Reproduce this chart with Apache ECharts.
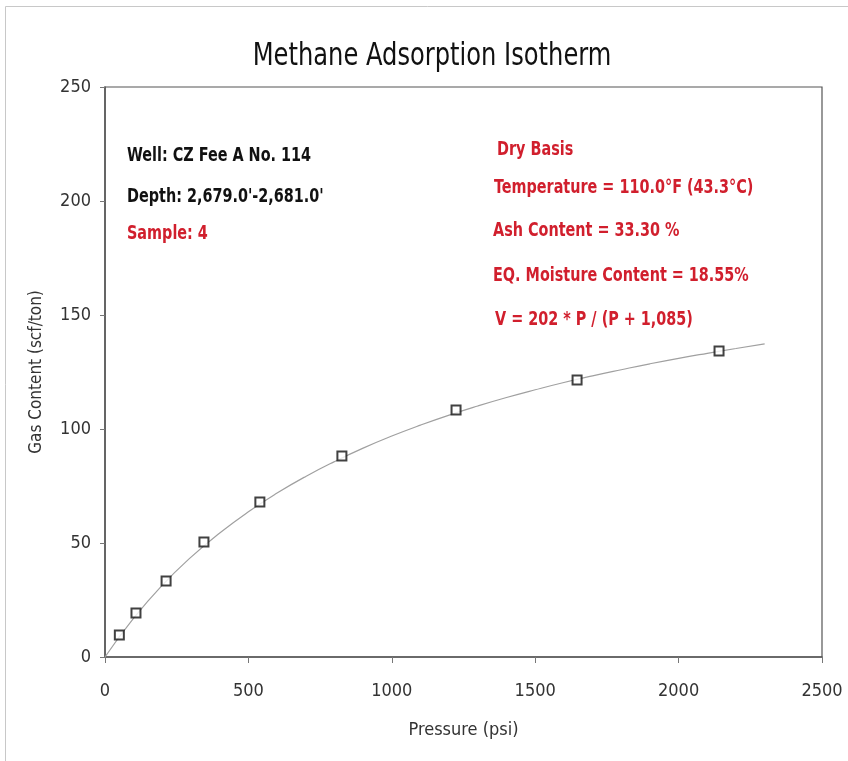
<!DOCTYPE html>
<html><head><meta charset="utf-8">
<script src="https://cdn.jsdelivr.net/npm/echarts@6/dist/echarts.min.js"></script>
<style>html,body{margin:0;padding:0;background:#fff}#c{width:848px;height:761px}</style>
</head><body><div id="c"></div>
<script>
const measuredPressure = [50, 108, 213, 345, 540, 826, 1224, 1646, 2141];
const measuredGas = [9.6, 19.3, 33.3, 50.4, 68, 88.2, 108.3, 121.5, 134.2];
const curvePressure = [0,100,200,300,400,500,600,700,800,900,1000,1100,1200,1300,1400,1500,1600,1700,1800,1900,2000,2100,2200,2300];
const curveGas = [0,17,31.5,43.8,54.4,63.7,71.9,79.2,85.7,91.6,96.9,101.7,106.1,110.1,113.8,117.2,120.4,123.3,126,128.6,131,133.2,135.3,137.3];
const leftNotes = ['Well: CZ Fee A No. 114', "Depth: 2,679.0'-2,681.0'", 'Sample: 4'];
const rightNotes = ['Dry Basis', 'Temperature = 110.0°F (43.3°C)', 'Ash Content = 33.30 %', 'EQ. Moisture Content = 18.55%', 'V = 202 * P / (P + 1,085)'];
const titleText = 'Methane Adsorption Isotherm';

const FONT = '"Liberation Sans Narrow","DejaVu Sans Condensed","Roboto Condensed",sans-serif';
const RED = '#d11f2d';
const chart = echarts.init(document.getElementById('c'));
function note(text, x, y, color) {
  return {type:'text', x:x, y:y, scaleX:0.8, originX:0,
    style:{text:text, fontFamily:FONT, fontWeight:'bold', fontSize:20, fill:color, textVerticalAlign:'middle'}};
}
const graphics = [
  {type:'rect', shape:{x:5.5,y:6.5,width:900,height:900}, style:{fill:'none', stroke:'#c8c8c8', lineWidth:1}, silent:true, z:-1},
  {type:'text', x:432, y:41, scaleX:0.84, originX:0,
    style:{text:titleText, fontFamily:FONT, fontSize:32, fill:'#111', textAlign:'center', textVerticalAlign:'top'}},
  note(leftNotes[0], 127, 156, '#111'),
  note(leftNotes[1], 127, 197, '#111'),
  note(leftNotes[2], 127, 234, RED),
  note(rightNotes[0], 497, 150, RED),
  note(rightNotes[1], 494, 188, RED),
  note(rightNotes[2], 493, 231, RED),
  note(rightNotes[3], 493, 276, RED),
  note(rightNotes[4], 495, 320, RED)
];
chart.setOption({
  animation:false,
  backgroundColor:'#fff',
  grid:{left:105, right:26, top:87, bottom:104, show:true, borderColor:'#555', borderWidth:1.2},
  xAxis:{type:'value', min:0, max:2500, interval:500, name:'Pressure (psi)', nameLocation:'middle', nameGap:64,
    nameTextStyle:{fontFamily:FONT, fontSize:18, color:'#333'},
    axisLine:{lineStyle:{color:'#555', width:1.5}}, axisTick:{show:true, length:6, lineStyle:{color:'#777'}},
    axisLabel:{fontFamily:FONT, fontSize:18, color:'#333', margin:25, formatter:(v)=>String(v)}, splitLine:{show:false}},
  yAxis:{type:'value', min:0, max:250, interval:50, name:'Gas Content (scf/ton)', nameLocation:'middle', nameGap:60,
    nameTextStyle:{fontFamily:FONT, fontSize:17, color:'#333'},
    axisLine:{show:true, lineStyle:{color:'#555', width:1.5}}, axisTick:{show:true, length:5, lineStyle:{color:'#777'}},
    axisLabel:{fontFamily:FONT, fontSize:18, color:'#333', margin:14}, splitLine:{show:false}},
  graphic:graphics,
  series:[
    {type:'line', data:curvePressure.map((p,i)=>[p,curveGas[i]]), smooth:true, showSymbol:false,
      lineStyle:{color:'#a0a0a0', width:1.2}, z:2, silent:true},
    {type:'scatter', data:measuredPressure.map((p,i)=>[p,measuredGas[i]]), symbol:'rect', symbolSize:9,
      itemStyle:{color:'#fff', borderColor:'#111', borderWidth:2}, z:3}
  ]
});
</script></body></html>
